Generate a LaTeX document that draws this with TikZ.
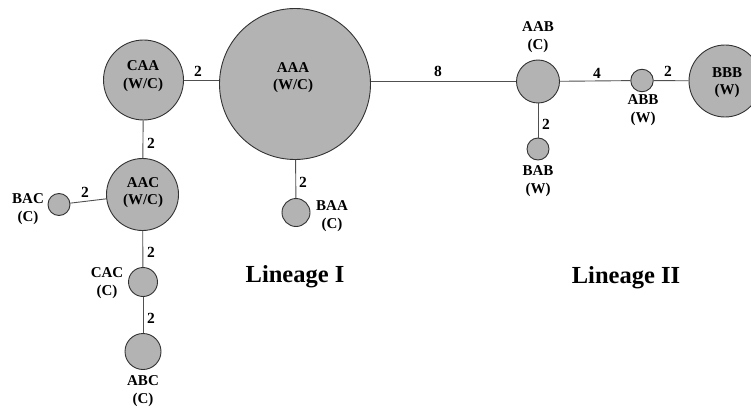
\documentclass[tikz,border=0pt]{standalone}
\usepackage{fontspec}
\setmainfont{Liberation Serif}
\definecolor{nodefill}{RGB}{179,179,179}
\definecolor{nodeline}{RGB}{50,50,50}
\definecolor{edgeline}{RGB}{80,80,80}
\tikzset{
  hap/.style={circle, draw=nodeline, fill=nodefill, line width=0.9pt, inner sep=0pt},
  lbl/.style={inner sep=0pt, align=center, font=\bfseries\fontsize{15}{17.5}\selectfont},
  num/.style={inner sep=0pt, font=\bfseries\fontsize{15.5}{17.5}\selectfont},
  lineage/.style={inner sep=0pt, font=\bfseries\fontsize{24.5}{28}\selectfont},
  edge/.style={draw=edgeline, line width=0.9pt}
}
\begin{document}
\begin{tikzpicture}[x=1pt,y=-1pt]
\useasboundingbox (0,0) rectangle (751,409);
\clip (0,0) rectangle (751,409);
% haplotype circles
\node[hap, minimum size=80pt]  (CAA) at (143.5,80) {};
\node[hap, minimum size=151pt] (AAA) at (295,84) {};
\node[hap, minimum size=43pt]  (AAB) at (538,81.5) {};
\node[hap, minimum size=22.5pt] (ABB) at (642,80.5) {};
\node[hap, minimum size=72pt]  (BBB) at (725,81) {};
\node[hap, minimum size=22pt]  (BAB) at (538,149) {};
\node[hap, minimum size=72pt]  (AAC) at (142.5,194.5) {};
\node[hap, minimum size=22pt]  (BAC) at (59,204.5) {};
\node[hap, minimum size=28pt]  (BAA) at (296,212.5) {};
\node[hap, minimum size=29pt]  (CAC) at (143,282) {};
\node[hap, minimum size=36pt]  (ABC) at (143,351.5) {};
% connectors
\path[edge] (CAA.east) -- (CAA.east -| AAA.west);
\path[edge] (AAB.west -| AAA.east) -- (AAB.west);
\path[edge] (AAB) -- (ABB);
\path[edge] (ABB) -- (BBB);
\path[edge] (AAB) -- (BAB);
\path[edge] (AAA) -- (BAA);
\path[edge] (CAA) -- (AAC);
\path[edge] (AAC) -- (BAC);
\path[edge] (AAC) -- (CAC);
\path[edge] (CAC) -- (ABC);
% circle labels
\node[lbl] (tCAA) at (143,76) {CAA\\(W/C)};
\node[lbl] (tAAA) at (293,77.5) {AAA\\(W/C)};
\node[lbl] (tAAB) at (538,37) {AAB\\(C)};
\node[lbl] (tBBB) at (727,82.5) {BBB\\(W)};
\node[lbl] (tABB) at (643,110) {ABB\\(W)};
\node[lbl] (tBAB) at (538,181) {BAB\\(W)};
\node[lbl] (tAAC) at (143,192.5) {AAC\\(W/C)};
\node[lbl] (tBAC) at (28,209) {BAC\\(C)};
\node[lbl] (tBAA) at (332,216) {BAA\\(C)};
\node[lbl] (tCAC) at (107,283) {CAC\\(C)};
\node[lbl] (tABC) at (143,391) {ABC\\(C)};
% edge numbers
\node[num] (n1) at (198,71) {2};
\node[num] (n2) at (438,71) {8};
\node[num] (n3) at (597,73) {4};
\node[num] (n4) at (668,71) {2};
\node[num] (n5) at (151,143) {2};
\node[num] (n6) at (85,192) {2};
\node[num] (n7) at (151,252) {2};
\node[num] (n8) at (151,318) {2};
\node[num] (n9) at (303,182) {2};
\node[num] (n10) at (546,124) {2};
% lineage labels
\node[lineage] (L1) at (295,277) {Lineage I};
\node[lineage] (L2) at (626,278) {Lineage II};
\end{tikzpicture}
\end{document}
